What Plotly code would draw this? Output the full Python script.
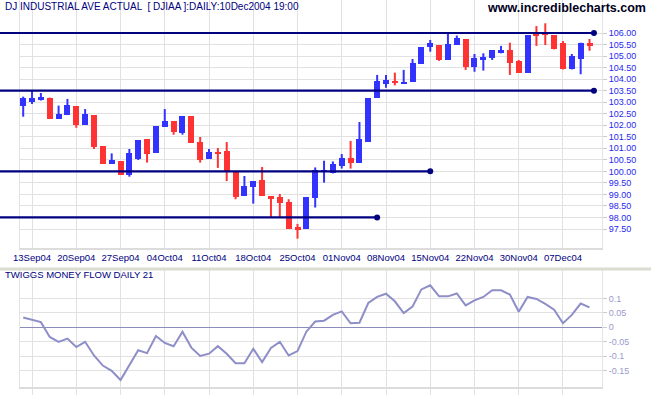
import plotly.graph_objects as go

# ---------------- data ----------------
dates = ["10Sep04",
         "13Sep04", "14Sep04", "15Sep04", "16Sep04", "17Sep04",
         "20Sep04", "21Sep04", "22Sep04", "23Sep04", "24Sep04",
         "27Sep04", "28Sep04", "29Sep04", "30Sep04", "01Oct04",
         "04Oct04", "05Oct04", "06Oct04", "07Oct04", "08Oct04",
         "11Oct04", "12Oct04", "13Oct04", "14Oct04", "15Oct04",
         "18Oct04", "19Oct04", "20Oct04", "21Oct04", "22Oct04",
         "25Oct04", "26Oct04", "27Oct04", "28Oct04", "29Oct04",
         "01Nov04", "02Nov04", "03Nov04", "04Nov04", "05Nov04",
         "08Nov04", "09Nov04", "10Nov04", "11Nov04", "12Nov04",
         "15Nov04", "16Nov04", "17Nov04", "18Nov04", "19Nov04",
         "22Nov04", "23Nov04", "24Nov04", "26Nov04", "29Nov04",
         "30Nov04", "01Dec04", "02Dec04", "03Dec04", "06Dec04",
         "07Dec04", "08Dec04", "09Dec04", "10Dec04"]

opens = [102.85, 103.01, 103.11, 103.20, 102.27, 102.44, 102.83, 102.01, 102.44, 101.08,
         100.33, 100.45, 99.84, 100.52, 101.40, 100.81, 101.94, 102.17, 101.68, 102.40,
         101.27, 100.54, 100.84, 100.88, 100.02, 98.95, 99.34, 99.63, 98.92, 98.87,
         98.69, 97.57, 97.52, 98.86, 99.96, 99.94, 100.23, 100.56, 100.38, 101.29,
         103.20, 103.79, 103.92, 103.82, 103.89, 104.67, 105.41, 105.48, 104.83, 105.48,
         105.74, 104.54, 104.83, 104.90, 105.12, 105.26, 104.79, 104.28, 105.94, 106.03,
         105.91, 105.55, 104.42, 104.87, 105.55]
highs = [103.24, 103.50, 103.40, 103.20, 102.85, 103.14, 102.83, 102.70, 102.44, 101.08,
         100.78, 100.45, 100.97, 101.36, 101.40, 101.95, 102.70, 102.17, 102.40, 102.40,
         101.49, 100.97, 101.01, 101.27, 100.02, 99.80, 99.58, 100.19, 98.92, 99.02,
         98.79, 97.72, 98.89, 100.17, 100.46, 100.43, 100.75, 101.32, 102.14, 103.17,
         104.18, 104.18, 104.28, 104.40, 104.87, 105.38, 105.70, 105.48, 106.04, 105.89,
         105.74, 105.09, 105.12, 105.26, 105.44, 105.58, 104.83, 105.91, 106.30, 106.42,
         105.91, 105.65, 105.09, 105.58, 105.74]
lows = [102.37, 102.92, 103.07, 102.27, 102.27, 102.44, 101.89, 102.01, 100.97, 100.33,
        100.33, 99.84, 99.77, 100.49, 100.38, 100.81, 101.94, 101.59, 101.59, 101.24,
        100.38, 100.54, 100.15, 99.58, 98.79, 98.95, 98.60, 98.93, 98.01, 98.01,
        97.52, 97.08, 97.52, 98.43, 99.51, 99.91, 100.12, 100.12, 100.38, 101.29,
        103.20, 103.63, 103.73, 103.82, 103.89, 104.67, 105.19, 104.79, 104.83, 105.48,
        104.40, 104.32, 104.37, 104.83, 105.12, 104.18, 104.28, 104.28, 105.44, 105.48,
        105.29, 104.42, 104.42, 104.21, 105.23]
closes = [103.19, 103.17, 103.21, 102.27, 102.49, 102.88, 102.01, 102.47, 101.04, 100.33,
          100.49, 99.84, 100.78, 101.36, 100.75, 101.95, 102.17, 101.72, 102.40, 101.24,
          100.49, 100.84, 100.74, 99.99, 98.90, 99.36, 99.58, 98.93, 98.82, 98.61,
          97.52, 97.49, 98.89, 100.06, 100.06, 100.32, 100.59, 100.35, 101.39, 103.17,
          103.92, 103.96, 103.85, 103.89, 104.71, 105.38, 105.58, 104.83, 105.52, 105.77,
          104.54, 104.90, 104.97, 105.26, 105.26, 104.71, 104.28, 105.91, 105.87, 105.91,
          105.29, 104.42, 105.00, 105.58, 105.47]

money_flow = [0.034, 0.026, 0.018, -0.033, -0.050, -0.039, -0.068, -0.050, -0.097, -0.132,
              -0.150, -0.182, -0.132, -0.079, -0.089, -0.030, -0.054, -0.065, -0.015, -0.070,
              -0.099, -0.091, -0.065, -0.091, -0.124, -0.124, -0.074, -0.120, -0.071, -0.050,
              -0.097, -0.082, -0.015, 0.020, 0.023, 0.043, 0.055, 0.014, 0.016, 0.084,
              0.105, 0.116, 0.090, 0.049, 0.072, 0.131, 0.145, 0.107, 0.107, 0.117,
              0.076, 0.093, 0.105, 0.128, 0.128, 0.113, 0.054, 0.105, 0.098, 0.081,
              0.061, 0.014, 0.043, 0.082, 0.069]

# support / resistance levels and the bar at which each ends
level_values = [106.0, 103.5, 100.0, 98.0]
level_end_bar = [64.5, 64.5, 46, 40]

x_tick_labels = ["13Sep04", "20Sep04", "27Sep04", "04Oct04", "11Oct04", "18Oct04", "25Oct04",
                 "01Nov04", "08Nov04", "15Nov04", "22Nov04", "30Nov04", "07Dec04"]
price_ticks = [97.5, 98.0, 98.5, 99.0, 99.5, 100.0, 100.5, 101.0, 101.5, 102.0, 102.5, 103.0,
               103.5, 104.0, 104.5, 105.0, 105.5, 106.0]
mf_ticks = [-0.15, -0.1, -0.05, 0, 0.05, 0.1]

# ---------------- styling ----------------
UP = "#3333ff"
DOWN = "#ff3333"
NAVY = "#000080"
GRID = "#e1e1e1"
MF = "#8e8ec8"
FONT = "Arial, Liberation Sans, sans-serif"

W, H = 651, 395
ML, MR, MT, MB = 20, 49, 0, 8
XR = [-0.36, 65.41]

idx = list(range(len(dates)))
tickpos = [dates.index(d) for d in x_tick_labels]

fig = go.Figure()

# wicks
for color, sel in ((UP, lambda o, c: c >= o), (DOWN, lambda o, c: c < o)):
    wx, wy = [], []
    for i in idx:
        if sel(opens[i], closes[i]):
            wx += [i, i, None]
            wy += [lows[i], highs[i], None]
    fig.add_trace(go.Scatter(x=wx, y=wy, mode="lines", line=dict(color=color, width=2),
                             hoverinfo="skip", showlegend=False, xaxis="x", yaxis="y"))

# bodies
for color, sel in ((UP, lambda o, c: c >= o), (DOWN, lambda o, c: c < o)):
    bx, bb, bh = [], [], []
    for i in idx:
        if sel(opens[i], closes[i]):
            bx.append(i)
            lo = min(opens[i], closes[i])
            bb.append(lo)
            bh.append(max(abs(closes[i] - opens[i]), 0.06))
    fig.add_trace(go.Bar(x=bx, y=bh, base=bb, width=0.68, marker=dict(color=color, line=dict(width=0)),
                         hoverinfo="skip", showlegend=False, xaxis="x", yaxis="y"))

pw = W - ML - MR
ph = H - MT - MB

# level lines
for lv, end in zip(level_values, level_end_bar):
    x1p = (end - XR[0]) / (XR[1] - XR[0])
    fig.add_shape(type="line", xref="paper", yref="y", x0=-ML / pw, x1=x1p,
                  y0=lv, y1=lv, line=dict(color=NAVY, width=2.2), layer="above")
fig.add_trace(go.Scatter(x=level_end_bar, y=level_values, mode="markers",
                         marker=dict(color=NAVY, size=6), hoverinfo="skip", showlegend=False,
                         cliponaxis=False, xaxis="x", yaxis="y"))

# money flow
fig.add_trace(go.Scatter(x=idx, y=money_flow, mode="lines", line=dict(color=MF, width=2),
                         hoverinfo="skip", showlegend=False, xaxis="x2", yaxis="y2"))

top_dom = [1 - 248 / ph, 1]
bot_dom = [0, 1 - 270 / ph]

fig.update_layout(
    width=W, height=H, margin=dict(l=ML, r=MR, t=MT, b=MB, pad=0),
    paper_bgcolor="white", plot_bgcolor="white", showlegend=False,
    bargap=0, barmode="overlay", hovermode=False,
    font=dict(family=FONT, size=10, color=NAVY),
    xaxis=dict(domain=[0, 1], range=XR, anchor="y", tickmode="array", tickvals=tickpos,
               ticktext=x_tick_labels, showgrid=True, gridcolor=GRID, gridwidth=1,
               showline=True, linecolor="#dcdcdc", linewidth=2, ticks="",
               tickfont=dict(family=FONT, size=9.5, color=NAVY), zeroline=False, fixedrange=True),
    yaxis=dict(domain=top_dom, range=[96.676, 107.431], side="right", anchor="x",
               tickmode="array", tickvals=price_ticks, ticktext=[f"{v:.2f}" for v in price_ticks],
               showgrid=True, gridcolor=GRID, gridwidth=1, zeroline=False,
               showline=True, linecolor="#e3e3e3", linewidth=1, mirror=True,
               ticks="outside", ticklen=4, tickcolor="#cccccc",
               tickfont=dict(family=FONT, size=9, color="#2828f0"), fixedrange=True),
    xaxis2=dict(domain=[0, 1], range=XR, anchor="y2", tickmode="array", tickvals=tickpos,
                showticklabels=False, showgrid=True, gridcolor=GRID, gridwidth=1,
                showline=True, linecolor="#dcdcdc", linewidth=2, ticks="outside", ticklen=6,
                tickcolor=GRID, zeroline=False, fixedrange=True),
    yaxis2=dict(domain=bot_dom, range=[-0.206, 0.198], side="right", anchor="x2",
                tickmode="array", tickvals=mf_ticks,
                ticktext=["-0.15", "-0.1", "-0.05", "0", "0.05", "0.1"],
                showgrid=True, gridcolor=GRID, gridwidth=1,
                zeroline=True, zerolinecolor="#8c8cbc", zerolinewidth=1,
                showline=True, linecolor="#e3e3e3", linewidth=1, mirror=True,
                ticks="outside", ticklen=4, tickcolor="#cccccc",
                tickfont=dict(family=FONT, size=9, color="#9a9acc"), fixedrange=True),
)

# separator band between panels
fig.add_shape(type="rect", xref="paper", yref="paper", x0=-ML / pw, x1=1 + MR / pw,
              y0=1 - 270.5 / ph, y1=1 - 267.5 / ph, fillcolor="#dcdcd2", line=dict(width=0),
              layer="above")

fig.add_annotation(text="DJ INDUSTRIAL AVE ACTUAL  [ DJIAA ]:DAILY:10Dec2004 19:00",
                   xref="paper", yref="paper", x=(3 - ML) / pw, y=1 - 6 / ph,
                   xanchor="left", yanchor="middle", showarrow=False,
                   font=dict(family=FONT, size=10, color=NAVY))
fig.add_annotation(text="<b>www.incrediblecharts.com</b>",
                   xref="paper", yref="paper", x=(648 - ML) / pw, y=1 - 8 / ph,
                   xanchor="right", yanchor="middle", showarrow=False,
                   font=dict(family=FONT, size=12.5, color="#000022"))
fig.add_annotation(text="TWIGGS MONEY FLOW DAILY 21",
                   xref="paper", yref="paper", x=(3 - ML) / pw, y=1 - 274.5 / ph,
                   xanchor="left", yanchor="middle", showarrow=False,
                   font=dict(family=FONT, size=9.5, color=NAVY))

fig.write_html("out.html", config={"displayModeBar": False},
               post_script="document.body.style.margin='0px';document.body.style.overflow='hidden';")
